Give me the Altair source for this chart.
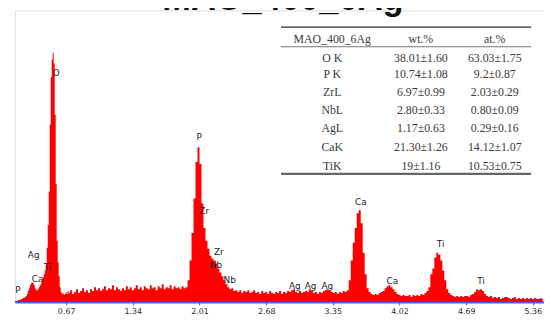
import altair as alt
import numpy as np
import pandas as pd

# ---------------- spectrum (intensity in arbitrary units) ----------------
LOW_START, LOW_STEP = 0.14, 0.01   # keV channels, low-energy part
low_counts = [0, 0, 1, 1, 1, 2, 2, 2, 3, 3, 4, 4, 5, 6, 8, 11, 14, 17, 19, 20,
              19, 17, 14, 12, 12, 13, 15, 17, 19, 22, 25, 28, 32, 37, 55, 78, 112, 180, 228, 246,
              253, 242, 190, 120, 62, 40, 26, 15, 10, 8, 9, 7, 8, 10, 8, 11]

HIGH_START, HIGH_STEP = 0.70, 0.02  # keV channels, rest of spectrum
high_counts = [
    9, 12, 8, 10, 13, 9, 11, 14, 10, 12,
    9, 13, 11, 15, 12, 14, 11, 13, 16, 12,
    14, 13, 17, 12, 15, 13, 11, 14, 12, 16,
    13, 15, 12, 14, 17, 13, 15, 12, 16, 14,
    13, 17, 14, 15, 12, 16, 14, 18, 13, 15,
    14, 17, 13, 16, 14, 15, 13, 16, 14, 15,
    22, 42, 70, 105, 142, 157, 140, 100, 75, 62,
    54, 47, 44, 42, 39, 34, 30, 26, 22, 18,
    15, 13, 14, 11, 12, 10, 12, 9, 11, 10,
    12, 9, 10, 12, 9, 10, 8, 11, 9, 10,
    8, 11, 9, 8, 10, 9, 11, 8, 10, 9,
    11, 10, 12, 13, 10, 9, 11, 9, 10, 11,
    10, 13, 12, 9, 10, 8, 10, 9, 11, 12,
    13, 11, 10, 9, 10, 8, 10, 9, 11, 10,
    12, 22, 42, 60, 75, 90, 93, 80, 50, 28,
    14, 10, 8, 7, 8, 7, 9, 10, 11, 14,
    16, 17, 15, 13, 10, 8, 7, 6, 7, 6,
    6, 7, 5, 7, 6, 7, 6, 8, 7, 9,
    11, 15, 28, 34, 45, 50, 48, 42, 32, 22,
    13, 9, 7, 6, 5, 6, 5, 6, 5, 6,
    6, 5, 7, 8, 10, 13, 12, 13, 11, 8,
    6, 5, 6, 4, 5, 4, 5, 3, 4, 5,
    5, 4, 3, 4, 5, 3, 4, 3, 4, 3,
    4, 3, 4, 3, 4, 3, 3, 4, 3]

tick_values = [0.67, 1.34, 2.01, 2.68, 3.35, 4.02, 4.69, 5.36]

# ---------------- peak labels ----------------
peak_text = ["O", "P", "Zr", "Zr", "Nb", "Nb", "P", "Ca", "Ti", "Ag",
             "Ag", "Ag", "Ag", "Ca", "Ca", "Ti", "Ti"]
peak_e = [0.571, 2.007, 2.057, 2.205, 2.175, 2.314, 0.185, 0.383, 0.482, 0.344,
          2.967, 3.126, 3.294, 3.631, 3.948, 4.433, 4.839]
peak_h = [232, 167, 92, 51, 37, 22, 12, 23, 35, 48,
          16, 16, 16, 101, 21, 59, 21]

# ---------------- table ----------------
table_header = ["MAO_400_6Ag", "wt.%", "at.%"]
table_rows = ["O K", "P K", "ZrL", "NbL", "AgL", "CaK", "TiK"]
table_wt = ["38.01±1.60", "10.74±1.08", "6.97±0.99", "2.80±0.33",
            "1.17±0.63", "21.30±1.26", "19±1.16"]
table_at = ["63.03±1.75", "9.2±0.87", "2.03±0.29", "0.80±0.09",
            "0.29±0.16", "14.12±1.07", "10.53±0.75"]

title_text = "MAO_400_6Ag"

# ---------------- layout constants (data units) ----------------
X_DOMAIN = [0.155, 5.472]
Y_DOMAIN = [0, 296]
COL_E = [3.344, 4.235, 4.977]
ROW_H = [267, 248, 231, 213, 195, 176, 157, 138]
RULE_E = [2.829, 5.343]
RULE_H = [279, 259, 130]
RULE_W = [1.8, 0.9, 2.2]
TITLE_E, TITLE_H = 2.848, 296

energy = list(np.round(LOW_START + LOW_STEP * np.arange(len(low_counts)), 3)) + \
    list(np.round(HIGH_START + HIGH_STEP * np.arange(len(high_counts)), 3))
spec = pd.DataFrame({"e": energy, "c": low_counts + high_counts})

xs = alt.Scale(domain=X_DOMAIN, nice=False, zero=False)
ys = alt.Scale(domain=Y_DOMAIN, nice=False, zero=False)

area = alt.Chart(spec).mark_area(interpolate="step", color="#ff0000", opacity=1).encode(
    x=alt.X("e:Q", scale=xs, title=None,
            axis=alt.Axis(values=tick_values, format=".2f", grid=False,
                          domainColor="#4a5ee8", domainWidth=2,
                          tickColor="#555", tickSize=3, tickWidth=1,
                          labelFont="DejaVu Sans", labelFontSize=8,
                          labelColor="#2a2a2a", labelPadding=3)),
    y=alt.Y("c:Q", scale=ys, axis=None),
)

pk = pd.DataFrame({"t": peak_text, "e": peak_e, "h": peak_h})
peaks = alt.Chart(pk).mark_text(font="DejaVu Sans", fontSize=9, color="#222",
                                align="center", baseline="middle").encode(
    x=alt.X("e:Q", scale=xs), y=alt.Y("h:Q", scale=ys), text="t:N")

cells = []
for j, t in enumerate(table_header):
    cells.append({"t": t, "e": COL_E[j], "h": ROW_H[0]})
for i in range(len(table_rows)):
    for j, t in enumerate([table_rows[i], table_wt[i], table_at[i]]):
        cells.append({"t": t, "e": COL_E[j], "h": ROW_H[i + 1]})
tab = alt.Chart(pd.DataFrame(cells)).mark_text(
    font="Liberation Serif", fontSize=12, color="#3a3a3a",
    align="center", baseline="middle").encode(
    x=alt.X("e:Q", scale=xs), y=alt.Y("h:Q", scale=ys), text="t:N")

rules_df = pd.DataFrame({"e1": [RULE_E[0]] * 3, "e2": [RULE_E[1]] * 3,
                         "h": RULE_H, "w": RULE_W})
rules = alt.Chart(rules_df).mark_rule(color="#666").encode(
    x=alt.X("e1:Q", scale=xs), x2="e2:Q", y=alt.Y("h:Q", scale=ys),
    strokeWidth=alt.StrokeWidth("w:Q", scale=None))

ttl = alt.Chart(pd.DataFrame({"t": [title_text], "e": [TITLE_E], "h": [TITLE_H]})).mark_text(
    font="Liberation Sans", fontSize=35, fontWeight="bold", color="#111",
    align="center", baseline="alphabetic").encode(
    x=alt.X("e:Q", scale=xs), y=alt.Y("h:Q", scale=ys), text="t:N")

chart = alt.layer(area, peaks, tab, rules, ttl).properties(
    width=537, height=296,
    autosize=alt.AutoSizeParams(type="none"),
    padding={"left": 7, "top": 0, "right": 0, "bottom": 18},
).configure_view(stroke=None).configure(background="white")

chart.save("out.html", embed_options={"renderer": "svg", "actions": False})
